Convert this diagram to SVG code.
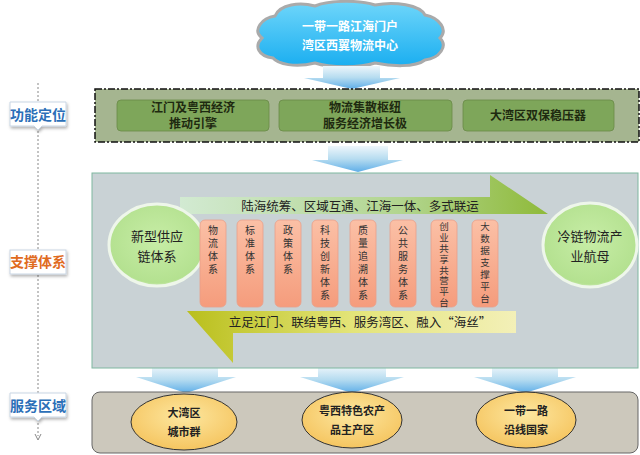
<svg xmlns="http://www.w3.org/2000/svg" width="640" height="455" viewBox="0 0 640 455">
<defs>
<linearGradient id="ba" x1="0" y1="0" x2="0" y2="1"><stop offset="0" stop-color="#eef6fb"/><stop offset="0.5" stop-color="#b6dcf0"/><stop offset="1" stop-color="#5faee8"/></linearGradient>
<linearGradient id="ta" x1="0" y1="0" x2="1" y2="0"><stop offset="0" stop-color="#d2ead2"/><stop offset="0.6" stop-color="#b2d58f"/><stop offset="1" stop-color="#8fba3a"/></linearGradient>
<linearGradient id="la" x1="0" y1="0" x2="1" y2="0"><stop offset="0" stop-color="#b9bf1c"/><stop offset="0.5" stop-color="#e3e478"/><stop offset="1" stop-color="#f3f0b8"/></linearGradient>
<radialGradient id="ge" cx="0.5" cy="0.45" r="0.6"><stop offset="0" stop-color="#c7eda6"/><stop offset="0.85" stop-color="#b4e190"/><stop offset="1" stop-color="#e8f3e0"/></radialGradient>
<radialGradient id="ye" cx="0.5" cy="0.4" r="0.6"><stop offset="0" stop-color="#fde7a0"/><stop offset="1" stop-color="#f5c560"/></radialGradient>
<linearGradient id="pp" x1="0" y1="0" x2="0" y2="1"><stop offset="0" stop-color="#fbc0a6"/><stop offset="1" stop-color="#f59c7c"/></linearGradient>
<linearGradient id="cl" x1="0" y1="0" x2="0" y2="1"><stop offset="0" stop-color="#6fd6fa"/><stop offset="1" stop-color="#1aaef0"/></linearGradient>
<filter id="sh" x="-10%" y="-10%" width="130%" height="140%"><feDropShadow dx="1" dy="2" stdDeviation="1.5" flood-color="#000" flood-opacity="0.3"/></filter>
</defs>
<style>
text{font-family:"Noto Sans CJK SC","Noto Sans",sans-serif;text-anchor:middle}
.w{fill:#fff;font-size:12px;font-weight:bold}
.g{fill:#1e2a10;font-size:12px;font-weight:bold}
.b{fill:#222;font-size:12px}
.gb{fill:#7ea65a;stroke:#6a8a48;stroke-width:0.8}
.pil{fill:url(#pp);stroke:#e9a08a;stroke-width:0.8}
.lab{fill:#fff;stroke:#c9d6e4;stroke-width:1;filter:url(#sh)}
.lt{font-size:14px;font-weight:bold}
.pt{fill:#333;font-size:10px;writing-mode:vertical-rl;text-anchor:start;letter-spacing:3px}
.ps{fill:#333;font-size:9.5px;writing-mode:vertical-rl;text-anchor:start;letter-spacing:1.3px}
</style>
<g id="side">
<line x1="38" y1="83" x2="38" y2="436" stroke="#888" stroke-dasharray="2,2"/>
<path d="M35,434 L38,440 L41,434" fill="none" stroke="#888"/>
<g id="lab1"><path class="lab" d="M10,102 h56 v24 h-24 l-4,4 l-4,-4 h-24z"/><text x="38" y="120" class="lt" fill="#2b6fb8">功能定位</text></g>
<g id="lab2"><rect x="10" y="250" width="56" height="24" class="lab"/><text x="38" y="267" class="lt" fill="#e06b1f">支撑体系</text></g>
<g id="lab3"><path class="lab" d="M10,393 h56 v24 h-24 l-4,4 l-4,-4 h-24z"/><text x="38" y="411" class="lt" fill="#2b6fb8">服务区域</text></g>
</g>
<g id="cloud">
<path d="M262,38 C252,30 262,18 275,16 C280,4 300,2 315,6 C330,0 360,0 375,5 C395,1 420,5 425,15 C440,18 448,30 440,38 C448,46 440,58 425,60 C415,68 390,66 375,63 C360,68 330,68 315,63 C295,68 278,64 273,58 C258,56 254,46 262,38Z" fill="url(#cl)" stroke="#aaa" stroke-width="3"/>
<text x="350" y="31" class="w">一带一路江海门户</text>
<text x="350" y="50" class="w">湾区西翼物流中心</text>
</g>
<g id="connectors">
<path d="M323,66 h57 v12 h20 l-48,11 l-48,-11 h19z" fill="url(#ba)"/>
<path d="M328,146 h60 v14 h15 l-45,12 l-46,-12 h16z" fill="url(#ba)"/>
<path d="M152,366 h66 v11 h18 l-50,16 l-50,-16 h16z" fill="url(#ba)"/>
<path d="M318,366 h68 v11 h18 l-52,16 l-52,-16 h18z" fill="url(#ba)"/>
<path d="M492,366 h66 v11 h18 l-51,16 l-51,-16 h18z" fill="url(#ba)"/>
</g>
<g id="func">
<rect x="95" y="89" width="544" height="53" fill="#a5b590" stroke="#111" stroke-width="1.5" stroke-dasharray="7,2,2,2"/>
<rect x="117" y="100" width="152" height="31" rx="4" class="gb"/>
<text x="193" y="112" class="g">江门及粤西经济</text><text x="193" y="128" class="g">推动引擎</text>
<rect x="279" y="100" width="173" height="31" rx="4" class="gb"/>
<text x="365" y="112" class="g">物流集散枢纽</text><text x="365" y="128" class="g">服务经济增长极</text>
<rect x="463" y="100" width="151" height="31" rx="4" class="gb"/>
<text x="538" y="120" class="g">大湾区双保稳压器</text>
</g>
<g id="support">
<rect x="92" y="173" width="546" height="195" fill="#c9d2d5" stroke="#7fb7a0" stroke-width="1"/>
<path d="M180,197 h310 v-22 l58,39 h-368z" fill="url(#ta)"/>
<text x="360" y="211" class="b" style="font-size:12.5px">陆海统筹、区域互通、江海一体、多式联运</text>
<path d="M187,311 h329 v22 h-283 v30z" fill="url(#la)"/>
<text x="360" y="327" class="b" style="font-size:12.5px">立足江门、联结粤西、服务湾区、融入“海丝”</text>
<ellipse cx="157" cy="245" rx="48" ry="41" fill="url(#ge)" stroke="#eef6ea" stroke-width="3"/>
<text x="157" y="241" class="b" style="font-size:13px">新型供应</text><text x="157" y="261" class="b" style="font-size:13px">链体系</text>
<ellipse cx="590" cy="245" rx="47" ry="42" fill="url(#ge)" stroke="#eef6ea" stroke-width="3"/>
<text x="590" y="241" class="b" style="font-size:13px">冷链物流产</text><text x="590" y="261" class="b" style="font-size:13px">业航母</text>
<rect x="200" y="220" width="26" height="87" rx="5" class="pil"/>
<rect x="237" y="220" width="26" height="87" rx="5" class="pil"/>
<rect x="275" y="220" width="26" height="87" rx="5" class="pil"/>
<rect x="312" y="220" width="26" height="87" rx="5" class="pil"/>
<rect x="350" y="220" width="26" height="87" rx="5" class="pil"/>
<rect x="390" y="220" width="26" height="87" rx="5" class="pil"/>
<rect x="431" y="220" width="26" height="87" rx="5" class="pil"/>
<rect x="472" y="220" width="26" height="87" rx="5" class="pil"/>
<text x="213" y="225" class="pt">物流体系</text>
<text x="250" y="225" class="pt">标准体系</text>
<text x="288" y="225" class="pt">政策体系</text>
<text x="325" y="225" class="pt">科技创新体系</text>
<text x="363" y="225" class="pt">质量追溯体系</text>
<text x="403" y="225" class="pt">公共服务体系</text>
<text x="444" y="222" class="ps">创业共享共营平台</text>
<text x="485" y="222" class="ps" style="letter-spacing:2.5px">大数据支撑平台</text>
</g>
<g id="service">
<rect x="92" y="392" width="546" height="61" rx="8" fill="#ccc8bc" stroke="#666" stroke-width="1"/>
<ellipse cx="184" cy="422" rx="53" ry="28" fill="url(#ye)" stroke="#333" stroke-width="1"/>
<ellipse cx="352" cy="420" rx="50" ry="28" fill="url(#ye)" stroke="#333" stroke-width="1"/>
<ellipse cx="526" cy="420" rx="50" ry="28" fill="url(#ye)" stroke="#333" stroke-width="1"/>
<g style="font-size:11px;font-weight:bold;fill:#222">
<text x="184" y="417">大湾区</text><text x="184" y="436">城市群</text>
<text x="352" y="415">粤西特色农产</text><text x="352" y="434">品主产区</text>
<text x="526" y="415">一带一路</text><text x="526" y="434">沿线国家</text>
</g>
</g>
</svg>
